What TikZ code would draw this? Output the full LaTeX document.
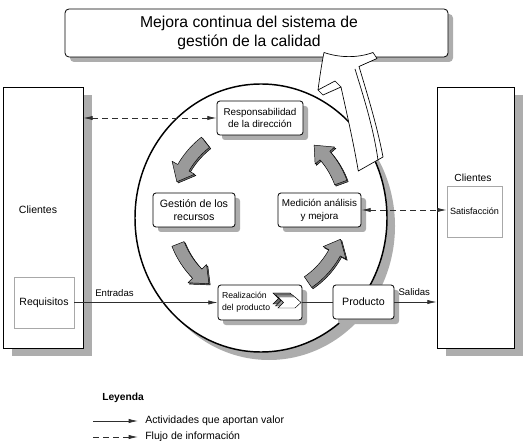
\documentclass[tikz,border=0pt]{standalone}
\usepackage{fontspec}
\setmainfont{Liberation Sans}
\usetikzlibrary{arrows.meta,shadows,calc}
\definecolor{shadowgray}{HTML}{ADADAD}
\definecolor{arrowgray}{HTML}{9A9A9A}
\definecolor{arrowdark}{HTML}{6E6E6E}
\definecolor{framegray}{HTML}{A8A8A8}
\definecolor{linegray}{HTML}{2E2E2E}
\newcommand{\fsz}[2]{\fontsize{#1}{#2}\selectfont}
\newcommand{\blockarr}[5]{%
  \pgfmathsetmacro{\aone}{#5+10}%
  \foreach \dx/\dy/\col in {1.3/1.3/arrowdark, 0/0/arrowgray}{%
  \filldraw[fill=\col, draw=black, line width=0.35pt, line join=round, shift={(\dx,\dy)}]
    plot[domain=#4:\aone, samples=15] ({#1+(#3+6.5)*cos(\x)},{#2+(#3+6.5)*sin(\x)})
    -- ({#1+(#3+13)*cos(\aone)},{#2+(#3+13)*sin(\aone)})
    -- ({#1+#3*cos(#5)},{#2+#3*sin(#5)})
    -- ({#1+(#3-13)*cos(\aone)},{#2+(#3-13)*sin(\aone)})
    -- plot[domain=\aone:#4, samples=15] ({#1+(#3-6.5)*cos(\x)},{#2+(#3-6.5)*sin(\x)})
    -- cycle;}%
}
\begin{document}
\begin{tikzpicture}[x=0.75pt,y=-0.75pt,
  proc/.style={draw=black, fill=white, rounded corners=2.2pt, line width=0.6pt, align=center, inner sep=1pt,
    minimum height=25.5pt,
    drop shadow={shadow xshift=3.75pt, shadow yshift=-3.75pt, fill=shadowgray, opacity=1}},
  cbox/.style={draw=black, fill=white, line width=0.5pt, minimum width=60pt, minimum height=195.75pt,
    drop shadow={shadow xshift=6.75pt, shadow yshift=-6pt, fill=shadowgray, opacity=1}},
  ibox/.style={draw=framegray, fill=white, line width=0.6pt, minimum width=45pt, minimum height=38.25pt, inner sep=1pt},
  txt/.style={inner sep=0pt},
  flow/.style={draw=linegray, line width=0.55pt, -{Latex[length=7pt,width=3.2pt]}},
  plain/.style={draw=linegray, line width=0.55pt},
  info/.style={draw=linegray, line width=0.6pt, dash pattern=on 4.5pt off 3pt,
    {Latex[length=7pt,width=3.2pt]}-{Latex[length=7pt,width=3.2pt]}},
  infoone/.style={draw=linegray, line width=0.6pt, dash pattern=on 4.5pt off 3pt, -{Latex[length=7pt,width=3.2pt]}},
]
\useasboundingbox (0,0) rectangle (524,441);
% top box
\node[proc, rounded corners=3pt, minimum width=287.25pt, minimum height=36pt] (topbox) at (256.5,33) {};
\node[txt, align=center, font=\fsz{11.8}{14.3}] (title) at (249,32.5) {Mejora continua del sistema de\\gestión de la calidad};
% clients
\node[cbox] (lcli) at (43,217.5) {};
\node[txt, font=\fsz{7.9}{9}] (lclitxt) at (38,210) {Clientes};
\node[ibox, font=\fsz{7.9}{9}] (req) at (44,302.5) {Requisitos};
\node[cbox, minimum width=57.75pt] (rcli) at (475.5,217.5) {};
\node[txt, font=\fsz{7.7}{9}] (rclitxt) at (473,178) {Clientes};
\node[ibox, minimum width=41.25pt, font=\fsz{6.8}{8}] (sat) at (474.5,211.5) {Satisfacción};
% circle
\fill[shadowgray] (269,226) ellipse [x radius=94.5pt, y radius=100.5pt];
\filldraw[fill=white, draw=black, line width=1.1pt] (261,218) ellipse [x radius=94.5pt, y radius=100.5pt];
% process nodes
\node[proc, minimum width=64.5pt, font=\fsz{7.4}{8.75}] (resp) at (260,118) {Responsabilidad\\de la dirección};
\node[proc, minimum width=61.5pt, font=\fsz{8}{10}] (ges) at (194,210) {Gestión de los\\recursos};
\node[proc, minimum width=62.25pt, font=\fsz{7.4}{9.75}] (med) at (319.5,210) {Medición análisis\\y mejora};
\node[proc, minimum width=63pt, minimum height=26.25pt, text width=57pt, align=left, inner sep=3pt, font=\fsz{6.5}{9.2}] (real) at (260,302.5) {Realización\\del producto};
\node[proc, minimum width=45.75pt, font=\fsz{8}{10}] (prod) at (363.5,302) {Producto};
% chevrons
\foreach \s/\c in {5/arrowdark, 2.5/arrowgray, 0/white}{
  \filldraw[fill=\c, draw=black, line width=0.35pt, shift={(-\s,-\s*0.8)}]
    (278,297) -- (295,297) -- (301,302.5) -- (295,308) -- (278,308) -- (283.5,302.5) -- cycle;
}
% connectors
\draw[info] (resp.west) -- (lcli.east |- resp.west);
\draw[info] (med.east) -- (sat.west |- med.east);
\draw[flow] (req.east) -- (real.west) node[pos=0.28, above=1pt, font=\fsz{7.2}{8}, text=black] {Entradas};
\draw[plain] (real.east) -- (prod.west |- real.east);
\draw[flow] (prod.east) -- (rcli.west |- prod.east) node[pos=0.47, above=1pt, font=\fsz{7.2}{8}, text=black] {Salidas};
% cycle arrows
\blockarr{260}{212}{88.5}{-128}{-160}
\blockarr{260}{212}{88}{158.7}{125.5}
\blockarr{260}{212}{85}{55.6}{18.7}
\blockarr{260}{212}{86}{-20}{-51}
% big hollow arrow
\filldraw[fill=white, draw=black, line width=0.5pt, line join=round]
  (358.3,171) .. controls (353,140) and (346,110) .. (341,87)
  -- (323,95) -- (318,90)
  .. controls (320,75) and (322,62) .. (324,52.5)
  .. controls (340,58) and (358,58) .. (373,52.5)
  -- (377,58.5) -- (359,66.5)
  .. controls (366,90) and (377,125) .. (383,157)
  -- cycle;
\draw[line width=0.5pt] (318,90) -- (335,81) -- (341,87);
\draw[line width=0.5pt] (355,69) .. controls (362,92) and (373,125) .. (378,160);
% legend
\node[txt, anchor=west, font=\bfseries\fsz{7.7}{9}] (ley) at (102,398) {Leyenda};
\coordinate (l1a) at (93,421);
\coordinate (l1b) at (138,421);
\coordinate (l2a) at (93,437);
\coordinate (l2b) at (138,437);
\draw[flow] (l1a) -- (l1b);
\draw[infoone] (l2a) -- (l2b);
\node[txt, anchor=west, font=\fsz{7.9}{9}] (l1t) at (145,421) {Actividades que aportan valor};
\node[txt, anchor=west, font=\fsz{7.9}{9}] (l2t) at (145,437) {Flujo de información};
\end{tikzpicture}
\end{document}
